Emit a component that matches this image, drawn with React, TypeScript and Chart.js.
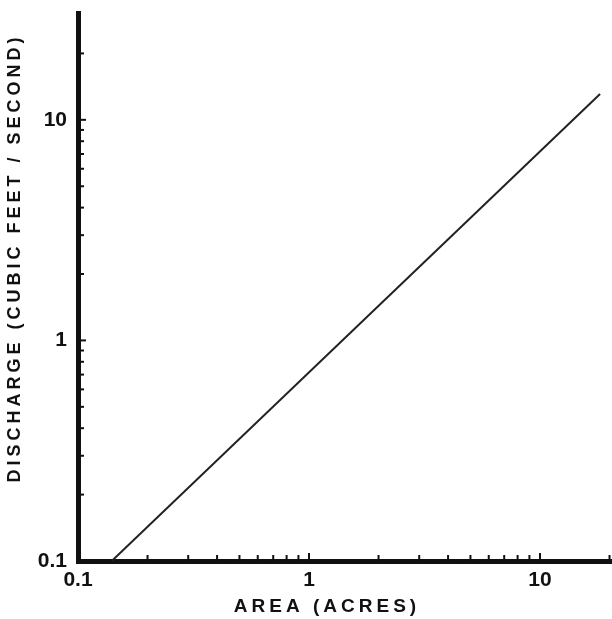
import React, { useEffect, useRef } from "react";
import { Chart, registerables } from "chart.js";

Chart.register(...registerables);

// Data (log-log)
const areaAcres: number[] = [0.14, 18.2];
const dischargeCfs: number[] = [0.1, 13.1];

const xLabelTicks: number[] = [0.1, 1, 10];
const yLabelTicks: number[] = [0.1, 1, 10];
const xMinorTicks: number[] = [0.2, 0.3, 0.4, 0.5, 0.6, 0.7, 0.8, 0.9, 2, 3, 4, 5, 6, 7, 8, 9, 20];
const yMinorTicks: number[] = [0.2, 0.3, 0.4, 0.5, 0.6, 0.7, 0.8, 0.9, 2, 3, 4, 5, 6, 7, 8, 9, 20];
const xMajorTicks: number[] = [1, 10];
const yMajorTicks: number[] = [1, 10];

const xTitle = "AREA (ACRES)";
const yTitle = "DISCHARGE (CUBIC FEET / SECOND)";

const INK = "#111";

const innerTicksPlugin = {
  id: "innerTicks",
  afterDraw(chart: any) {
    const { ctx, chartArea, scales } = chart;
    const xs = scales.x;
    const ys = scales.y;
    ctx.save();
    ctx.strokeStyle = INK;
    ctx.lineWidth = 2;
    const drawX = (vals: number[], len: number) => {
      vals.forEach((v) => {
        const px = xs.getPixelForValue(v);
        if (px < chartArea.left || px > chartArea.right + 1) return;
        ctx.beginPath();
        ctx.moveTo(px, chartArea.bottom);
        ctx.lineTo(px, chartArea.bottom - len);
        ctx.stroke();
      });
    };
    const drawY = (vals: number[], len: number) => {
      vals.forEach((v) => {
        const py = ys.getPixelForValue(v);
        if (py < chartArea.top - 1 || py > chartArea.bottom) return;
        ctx.beginPath();
        ctx.moveTo(chartArea.left, py);
        ctx.lineTo(chartArea.left + len, py);
        ctx.stroke();
      });
    };
    drawX(xMinorTicks, 6);
    drawX(xMajorTicks, 8);
    drawY(yMinorTicks, 6);
    drawY(yMajorTicks, 8);

    // axis titles
    ctx.fillStyle = INK;
    ctx.font = "bold 19px 'Liberation Sans', Arial, sans-serif";
    ctx.textAlign = "center";
    ctx.textBaseline = "middle";
    (ctx as any).letterSpacing = "4px";
    ctx.fillText(xTitle, 327, 607);
    ctx.font = "bold 18px 'Liberation Sans', Arial, sans-serif";
    (ctx as any).letterSpacing = "4px";
    ctx.translate(15, 258);
    ctx.rotate(-Math.PI / 2);
    ctx.fillText(yTitle, 0, 0);
    ctx.restore();
  },
};

export default function App() {
  const canvasRef = useRef<HTMLCanvasElement | null>(null);

  useEffect(() => {
    if (!canvasRef.current) return;
    const tickFont = { family: "'Liberation Sans', Arial, sans-serif", size: 21, weight: "bold" as const };
    const chart = new Chart(canvasRef.current, {
      type: "line",
      data: {
        datasets: [
          {
            data: areaAcres.map((a, i) => ({ x: a, y: dischargeCfs[i] })),
            borderColor: "#222",
            borderWidth: 2,
            pointRadius: 0,
            fill: false,
          },
        ],
      },
      options: {
        animation: false,
        responsive: false,
        maintainAspectRatio: false,
        layout: { padding: { top: 13, right: 0, left: 0, bottom: 0 } },
        plugins: { legend: { display: false }, tooltip: { enabled: false } },
        scales: {
          x: {
            type: "logarithmic",
            min: 0.1,
            max: 20.5,
            afterBuildTicks: (s: any) => {
              s.ticks = xLabelTicks.map((v) => ({ value: v }));
            },
            afterFit: (s: any) => {
              s.height = 58;
              s.paddingLeft = 0;
              s.paddingRight = 0;
            },
            ticks: {
              color: INK,
              font: tickFont,
              padding: 7,
              maxRotation: 0,
              autoSkip: false,
              callback: (v: any) => String(v),
            },
            grid: { display: true, drawOnChartArea: false, drawTicks: false },
            border: { display: true, color: INK, width: 5 },
          },
          y: {
            type: "logarithmic",
            min: 0.1,
            max: 30.5,
            afterBuildTicks: (s: any) => {
              s.ticks = yLabelTicks.map((v) => ({ value: v }));
            },
            afterFit: (s: any) => {
              s.width = 78;
              s.paddingTop = 0;
              s.paddingBottom = 0;
            },
            ticks: {
              color: INK,
              font: tickFont,
              padding: 11,
              autoSkip: false,
              callback: (v: any) => String(v),
            },
            grid: { display: true, drawOnChartArea: false, drawTicks: false },
            border: { display: true, color: INK, width: 5 },
          },
        },
      },
      plugins: [innerTicksPlugin],
    });
    return () => chart.destroy();
  }, []);

  return (
    <div style={{ position: "absolute", left: 0, top: 0, width: 612, height: 619, background: "#fff" }}>
      <canvas ref={canvasRef} width={612} height={619} style={{ display: "block", width: 612, height: 619 }} />
    </div>
  );
}
